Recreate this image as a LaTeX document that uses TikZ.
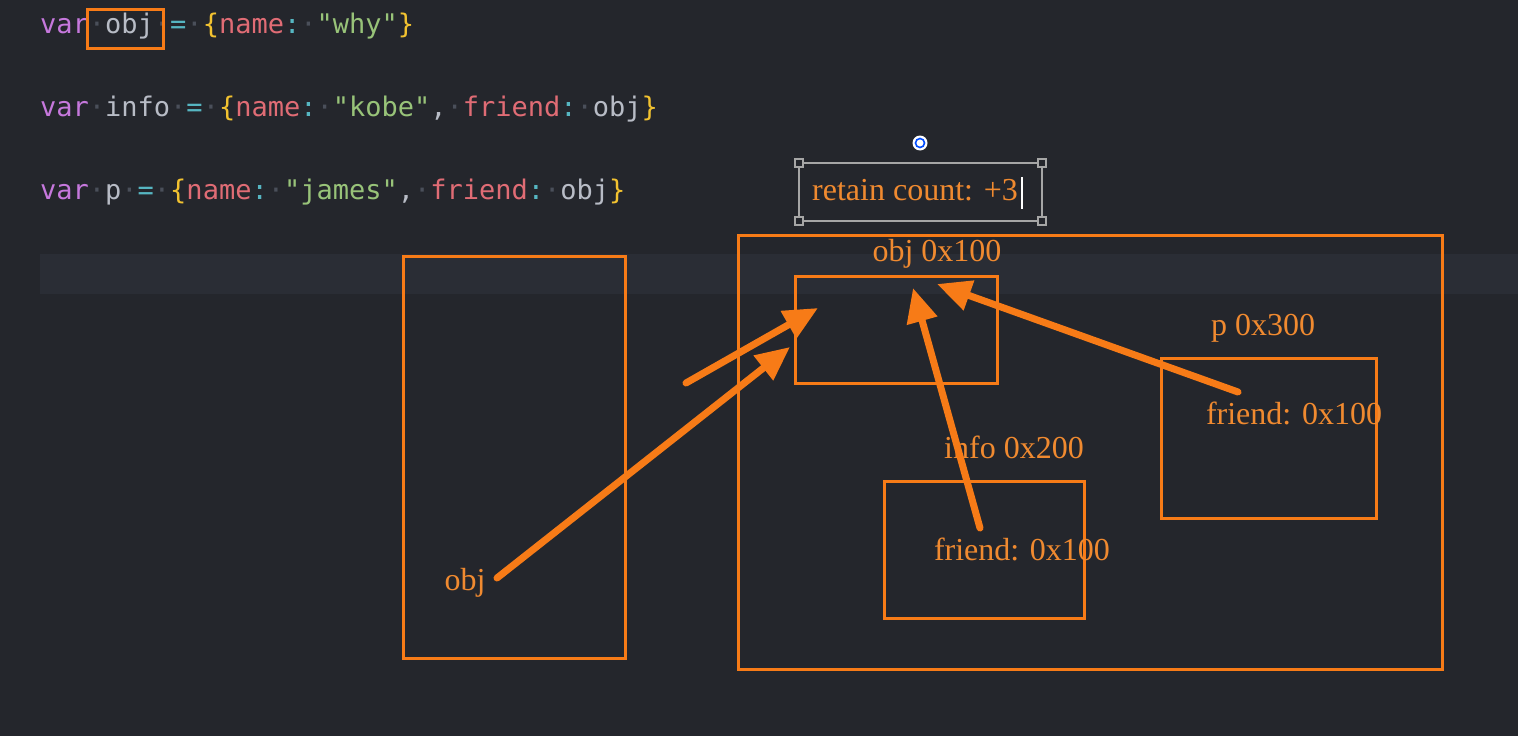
\documentclass[tikz,border=0pt]{standalone}
\usepackage{fontspec}
\usetikzlibrary{arrows.meta}
\setmainfont{Liberation Serif}
\newfontfamily\codefont{DejaVu Sans Mono}[Ligatures=NoCommon]
\definecolor{bgc}{HTML}{24262C}
\definecolor{bandc}{HTML}{2A2D35}
\definecolor{orng}{HTML}{F77B17}
\definecolor{txto}{HTML}{F08A30}
\definecolor{kwc}{HTML}{C678DD}
\definecolor{idc}{HTML}{B8BCC6}
\definecolor{opc}{HTML}{56B6C2}
\definecolor{brc}{HTML}{F2C230}
\definecolor{keyc}{HTML}{E06C75}
\definecolor{strc}{HTML}{98C379}
\definecolor{dotc}{HTML}{4A4F5A}
\newcommand\ckw[1]{\textcolor{kwc}{#1}}
\newcommand\cid[1]{\textcolor{idc}{#1}}
\newcommand\cop[1]{\textcolor{opc}{#1}}
\newcommand\cbr[1]{\textcolor{brc}{#1}}
\newcommand\ckey[1]{\textcolor{keyc}{#1}}
\newcommand\cstr[1]{\textcolor{strc}{#1}}
\newcommand\wsdot{\textcolor{dotc}{·}}
\begin{document}
\begin{tikzpicture}[x=1pt,y=-1pt,
  codeline/.style={anchor=base west,inner sep=0pt,font=\codefont\fontsize{27}{27}\selectfont},
  memlabel/.style={anchor=base,inner sep=0pt,text=txto,font=\fontsize{32}{32}\selectfont},
  membox/.style={draw=orng,line width=3pt},
  arr/.style={draw=orng,line width=7pt,line cap=round,-{Triangle[length=34pt,width=30pt]}},
  handle/.style={draw=gray!70,fill=bgc,line width=1.2pt}]
  \useasboundingbox (0,0) rectangle (1518,736);
  \fill[bgc] (0,0) rectangle (1518,736);
  % current-line highlight of the editor
  \fill[bandc] (40,254) rectangle (1518,294);

  % source code
  \node[codeline] (code1) at (40,33) {\ckw{var}\wsdot\cid{obj}\wsdot\cop{=}\wsdot\cbr{\{}\ckey{name}\cop{:}\wsdot\cstr{"why"}\cbr{\}}};
  \node[codeline] (code2) at (40,116) {\ckw{var}\wsdot\cid{info}\wsdot\cop{=}\wsdot\cbr{\{}\ckey{name}\cop{:}\wsdot\cstr{"kobe"}\cid{,}\wsdot\ckey{friend}\cop{:}\wsdot\cid{obj}\cbr{\}}};
  \node[codeline] (code3) at (40,199) {\ckw{var}\wsdot\cid{p}\wsdot\cop{=}\wsdot\cbr{\{}\ckey{name}\cop{:}\wsdot\cstr{"james"}\cid{,}\wsdot\ckey{friend}\cop{:}\wsdot\cid{obj}\cbr{\}}};
  \draw[membox] (87,9) rectangle (163,48);

  % stack and heap
  \draw[membox] (403,256) rectangle (625,658);
  \draw[membox] (738,235) rectangle (1442,669);
  \draw[membox] (795,276) rectangle (997,383);
  \draw[membox] (884,481) rectangle (1084,618);
  \draw[membox] (1161,358) rectangle (1376,518);

  \node[memlabel] (objlab) at (937,261) {obj 0x100};
  \node[memlabel] (infolab) at (1014,458) {info 0x200};
  \node[memlabel] (infofr) at (1022,560) {friend: 0x100};
  \node[memlabel] (plab) at (1263,335) {p 0x300};
  \node[memlabel] (pfr) at (1294,424) {friend: 0x100};
  \node[memlabel] (objvar) at (465,590) {obj};

  % selected text box with its handles
  \draw[draw=gray!70,line width=1.5pt] (799,163) rectangle (1042,221);
  \foreach \hx/\hy in {799/163,1042/163,799/221,1042/221}
    \draw[handle] (\hx-4,\hy-4) rectangle (\hx+4,\hy+4);
  \fill[white] (920,143) circle (7.5);
  \draw[blue!70!cyan,line width=1.6pt] (920,143) circle (4.5);
  \node[memlabel] (retain) at (915,200) {retain count: +3};
  \draw[white,line width=1.5pt] (1022,177) -- (1022,209);

  % references
  \coordinate (s1) at (686,383);
  \coordinate (t1) at (818,308);
  \coordinate (s2) at (497,578);
  \coordinate (t2) at (790,347);
  \coordinate (s3) at (980,528);
  \coordinate (t3) at (913,288);
  \coordinate (s4) at (1238,392);
  \coordinate (t4) at (937,284);
  \draw[arr] (s1) -- (t1);
  \draw[arr] (s2) -- (t2);
  \draw[arr] (s3) -- (t3);
  \draw[arr] (s4) -- (t4);
\end{tikzpicture}
\end{document}
